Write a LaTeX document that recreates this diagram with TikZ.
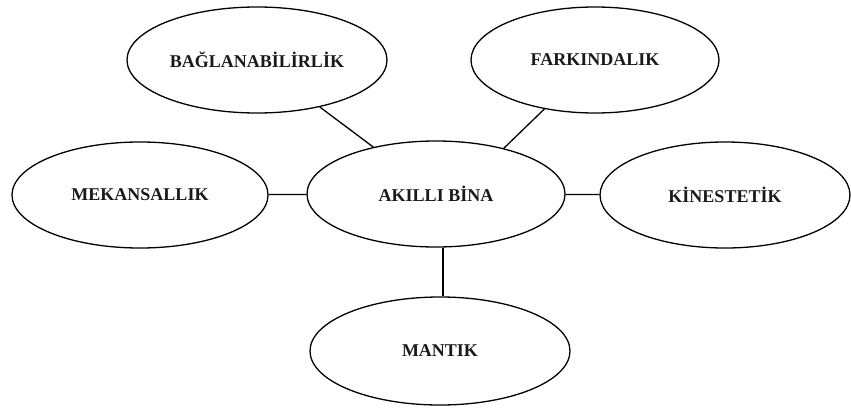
\documentclass[tikz,border=0pt]{standalone}
\usepackage{fontspec}
\setmainfont{Liberation Serif}
\usetikzlibrary{shapes.geometric}
\begin{document}
\begin{tikzpicture}[x=1pt,y=-1pt,
  bubble/.style={ellipse,draw=black,line width=1.3pt,inner sep=0pt,
    font=\fontsize{18}{21}\selectfont\bfseries,text=black!90},
  link/.style={draw=black,line width=1.3pt}]
  \useasboundingbox (0,0) rectangle (851,407);
  % concept bubbles around the central one
  \node[bubble,minimum width=258pt,minimum height=106pt] (akilli) at (436,194) {AKILLI BİNA};
  \node[bubble,minimum width=260pt,minimum height=106pt] (bag) at (257,60) {BAĞLANABİLİRLİK};
  \node[bubble,minimum width=248pt,minimum height=106pt] (fark) at (595,60) {FARKINDALIK};
  \node[bubble,minimum width=256pt,minimum height=106pt] (mek) at (140,195) {MEKANSALLIK};
  \node[bubble,minimum width=250pt,minimum height=106pt] (kin) at (725,195) {KİNESTETİK};
  \node[bubble,minimum width=260pt,minimum height=108pt] (mantik) at (440,351) {MANTIK};
  % links to the centre
  \draw[link] (bag) -- (akilli);
  \draw[link] (fark) -- (akilli.34);
  \draw[link] (mek) -- (akilli);
  \draw[link] (kin) -- (akilli);
  \draw[link] (akilli.south -| mantik.north) ++(3,0) -- ([xshift=3pt]mantik.north);
\end{tikzpicture}
\end{document}
